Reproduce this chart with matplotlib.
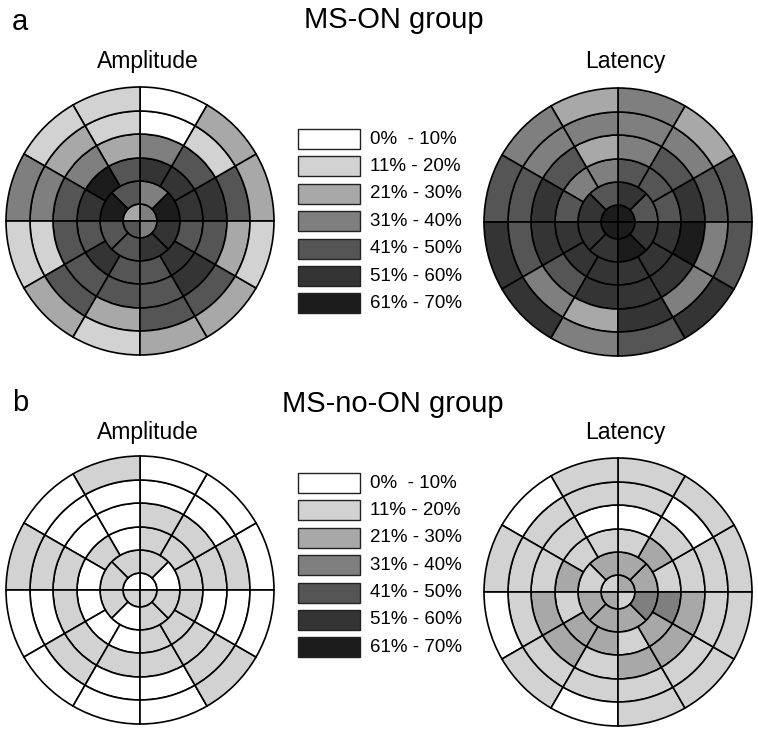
import numpy as np
import matplotlib
matplotlib.use("Agg")
import matplotlib.pyplot as plt
from matplotlib.patches import Rectangle

plt.rcParams['font.family'] = ['Liberation Sans', 'DejaVu Sans']

W, H = 758, 735

# percentage classes (index 0..6) and their grey shades
class_labels = ["0%  - 10%", "11% - 20%", "21% - 30%", "31% - 40%",
                "41% - 50%", "51% - 60%", "61% - 70%"]
class_colors = ["#ffffff", "#d2d2d2", "#a8a8a8", "#7f7f7f",
                "#555555", "#343434", "#1c1c1c"]

# class index per cell, angles counted anticlockwise from 3 o'clock
# centre: 4 quadrants, ring 1: 8 sectors of 45 deg, rings 2-5: 12 sectors of 30 deg
on_amp_centre = [3, 2, 4, 3]
on_amp_ring1 = [6, 3, 4, 6, 4, 4, 5, 5]
on_amp_ring2 = [5, 5, 5, 4, 6, 5, 4, 5, 4, 4, 5, 4]
on_amp_ring3 = [5, 4, 3, 2, 3, 4, 4, 4, 4, 4, 5, 4]
on_amp_ring4 = [4, 1, 0, 1, 2, 3, 1, 4, 2, 4, 4, 2]
on_amp_ring5 = [2, 2, 0, 1, 1, 3, 1, 2, 1, 2, 2, 1]

on_lat_centre = [6, 6, 6, 6]
on_lat_ring1 = [4, 5, 4, 5, 5, 5, 6, 5]
on_lat_ring2 = [4, 4, 4, 3, 3, 4, 5, 5, 5, 5, 5, 5]
on_lat_ring3 = [5, 4, 3, 2, 4, 5, 5, 4, 5, 5, 5, 6]
on_lat_ring4 = [4, 3, 3, 3, 3, 4, 4, 3, 2, 5, 3, 3]
on_lat_ring5 = [4, 2, 3, 2, 3, 4, 5, 5, 3, 4, 5, 4]

noon_amp_centre = [0, 0, 1, 1]
noon_amp_ring1 = [0, 1, 1, 1, 1, 0, 1, 1]
noon_amp_ring2 = [1, 1, 1, 0, 1, 0, 0, 0, 0, 1, 1, 1]
noon_amp_ring3 = [1, 1, 1, 0, 0, 1, 1, 1, 1, 1, 1, 0]
noon_amp_ring4 = [1, 0, 0, 0, 0, 1, 0, 1, 0, 0, 1, 0]
noon_amp_ring5 = [0, 0, 0, 1, 0, 1, 0, 0, 0, 0, 1, 0]

noon_lat_centre = [2, 1, 2, 1]
noon_lat_ring1 = [2, 2, 2, 1, 2, 2, 2, 3]
noon_lat_ring2 = [1, 2, 1, 1, 1, 2, 1, 2, 2, 1, 2, 3]
noon_lat_ring3 = [1, 1, 0, 0, 1, 1, 2, 2, 1, 2, 2, 2]
noon_lat_ring4 = [1, 0, 1, 1, 1, 1, 1, 1, 1, 1, 1, 1]
noon_lat_ring5 = [1, 1, 1, 1, 0, 1, 0, 1, 0, 1, 1, 1]

ring_edges = [0, 17, 40, 63, 87, 110, 134]
R = 136


def fig_xy(x, y):
    return x / W, 1 - y / H


def draw_map(fig, cx, cy, rings):
    ax = fig.add_axes([(cx - R) / W, 1 - (cy + R) / H, 2 * R / W, 2 * R / H],
                      projection='polar')
    for i, vals in enumerate(rings):
        n = len(vals)
        width = 2 * np.pi / n
        theta = np.arange(n) * width + width / 2
        ax.bar(theta, ring_edges[i + 1] - ring_edges[i], width=width,
               bottom=ring_edges[i], color=[class_colors[v] for v in vals],
               edgecolor="black", linewidth=1.2, align="center")
    ax.set_ylim(0, R)
    ax.set_axis_off()
    return ax


def draw_legend(ax, top):
    for i, lab in enumerate(class_labels):
        y = top + i * 27.4
        ax.add_patch(Rectangle((298, y), 62, 20, facecolor=class_colors[i],
                               edgecolor="#222222", linewidth=1.0))
        ax.text(370, y + 10, lab, fontsize=13.5, va="center", ha="left")


fig = plt.figure(figsize=(W / 100, H / 100), dpi=100)
bg = fig.add_axes([0, 0, 1, 1])
bg.set_xlim(0, W)
bg.set_ylim(H, 0)
bg.set_axis_off()

draw_map(fig, 140, 221, [on_amp_centre, on_amp_ring1, on_amp_ring2,
                         on_amp_ring3, on_amp_ring4, on_amp_ring5])
draw_map(fig, 618, 222, [on_lat_centre, on_lat_ring1, on_lat_ring2,
                         on_lat_ring3, on_lat_ring4, on_lat_ring5])
draw_map(fig, 140, 590, [noon_amp_centre, noon_amp_ring1, noon_amp_ring2,
                         noon_amp_ring3, noon_amp_ring4, noon_amp_ring5])
draw_map(fig, 618, 592, [noon_lat_centre, noon_lat_ring1, noon_lat_ring2,
                         noon_lat_ring3, noon_lat_ring4, noon_lat_ring5])

draw_legend(bg, 129)
draw_legend(bg, 473)

bg.text(20, 22, "a", fontsize=21, ha="center", va="center")
bg.text(394, 20, "MS-ON group", fontsize=21, ha="center", va="center")
bg.text(148, 61, "Amplitude", fontsize=16.5, ha="center", va="center")
bg.text(625, 61, "Latency", fontsize=16.5, ha="center", va="center")

bg.text(20, 403, "b", fontsize=21, ha="center", va="center")
bg.text(393, 404, "MS-no-ON group", fontsize=21, ha="center", va="center")
bg.text(148, 432, "Amplitude", fontsize=16.5, ha="center", va="center")
bg.text(625, 432, "Latency", fontsize=16.5, ha="center", va="center")

fig.savefig("out.png", dpi=100)
